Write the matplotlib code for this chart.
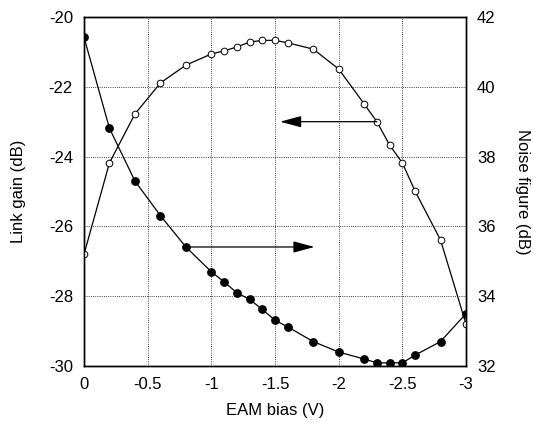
import matplotlib
matplotlib.use('Agg')
import matplotlib.pyplot as plt

plt.rcParams['font.family'] = ['Liberation Sans', 'DejaVu Sans']

# ------------------ Data ------------------
# link gain (open circles, left axis)
bias_gain = [0, -0.2, -0.4, -0.6, -0.8, -1.0, -1.1, -1.2, -1.3, -1.4, -1.5,
             -1.6, -1.8, -2.0, -2.2, -2.3, -2.4, -2.5, -2.6, -2.8, -3.0]
link_gain = [-26.8, -24.18, -22.78, -21.89, -21.38, -21.06, -20.97, -20.86,
             -20.72, -20.67, -20.67, -20.74, -20.92, -21.49, -22.49, -23.0,
             -23.67, -24.18, -24.99, -26.39, -28.8]

# noise figure (filled circles, right axis)
bias_nf = [0, -0.2, -0.4, -0.6, -0.8, -1.0, -1.1, -1.2, -1.3, -1.4, -1.5,
           -1.6, -1.8, -2.0, -2.2, -2.3, -2.4, -2.5, -2.6, -2.8, -3.0]
noise_fig = [41.42, 38.81, 37.30, 36.31, 35.41, 34.70, 34.41, 34.10, 33.91,
             33.62, 33.31, 33.12, 32.70, 32.40, 32.20, 32.09, 32.09, 32.09,
             32.31, 32.70, 33.50]

x_ticks = [0, -0.5, -1, -1.5, -2, -2.5, -3]
x_tick_labels = ['0', '-0.5', '-1', '-1.5', '-2', '-2.5', '-3']
gain_ticks = [-30, -28, -26, -24, -22, -20]
nf_ticks = [32, 34, 36, 38, 40, 42]

# ------------------ Figure ------------------
fig = plt.figure(figsize=(5.33, 4.28), dpi=100)
ax = fig.add_axes([0.1576, 0.1449, 0.7167, 0.8154])
ax2 = ax.twinx()

ax.set_xlim(0, -3)
ax.set_ylim(-30, -20)
ax2.set_ylim(32, 42)

ax.grid(True, linestyle=(0, (1, 1.6)), color='black', linewidth=0.6)
ax.set_axisbelow(True)

ax.plot(bias_gain, link_gain, '-o', color='black', markerfacecolor='white',
        markeredgecolor='black', markersize=4.8, markeredgewidth=0.7,
        linewidth=0.9, zorder=3)
ax2.plot(bias_nf, noise_fig, '-o', color='black', markerfacecolor='black',
         markersize=5.3, linewidth=0.9, zorder=3)

# arrows telling which curve belongs to which axis
arrow_kw = dict(arrowstyle='-|>,head_length=1.3,head_width=0.35',
                color='black', lw=0.9, shrinkA=0, shrinkB=0)
ax.annotate('', xy=(-1.54, -23.0), xytext=(-2.3, -23.0), arrowprops=arrow_kw)
ax2.annotate('', xy=(-1.81, 35.41), xytext=(-0.8, 35.41), arrowprops=arrow_kw)

ax.set_xticks(x_ticks)
ax.set_xticklabels(x_tick_labels)
ax.set_yticks(gain_ticks)
ax.set_yticklabels([str(t) for t in gain_ticks])
ax2.set_yticks(nf_ticks)

for a in (ax, ax2):
    a.tick_params(length=0, labelsize=12, pad=8)
    for s in a.spines.values():
        s.set_linewidth(1.0)

ax.set_xlabel('EAM bias (V)', fontsize=12, labelpad=8)
ax.set_ylabel('Link gain (dB)', fontsize=12, labelpad=16)
ax2.set_ylabel('Noise figure (dB)', fontsize=12, rotation=270, labelpad=25)

fig.savefig('out.png', dpi=100)
